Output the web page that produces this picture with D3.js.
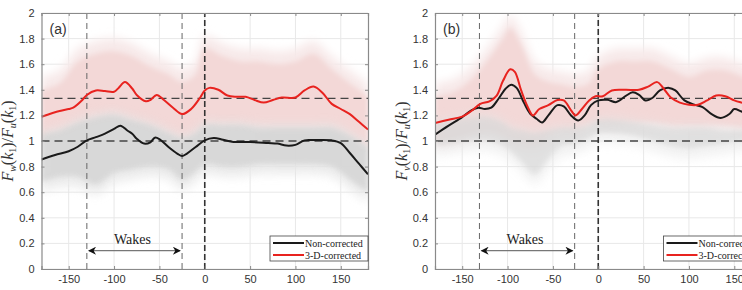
<!DOCTYPE html>
<html><head><meta charset="utf-8">
<script src="https://cdn.jsdelivr.net/npm/d3@7"></script>
<style>
html,body{margin:0;padding:0;background:#fff;overflow:hidden;}
svg{display:block;}
.tick text{font-family:"Liberation Sans",Arial,sans-serif;font-size:11px;fill:#333;}
</style></head><body>
<svg id="chart" width="742" height="290"></svg>
<script>
// ---------- data ----------
const xTicks = [-150,-100,-50,0,50,100,150];
const yTicks = [0,0.2,0.4,0.6,0.8,1,1.2,1.4,1.6,1.8,2];
const yTickLabels = ["0","0.2","0.4","0.6","0.8","1","1.2","1.4","1.6","1.8","2"];
const refLines = [1, 4/3];
const wakeStartA = -130, wakeEndA = -25;
const wakeStartB = -131, wakeEndB = -26;
const legendLabels = ["Non-corrected","3-D-corrected"];

// panel (a)
const aRedX = [-180,-160,-150,-145,-135,-130,-120,-110,-100,-95,-88,-80,-75,-65,-60,-53,-45,-35,-25,-15,-5,0,5,15,25,35,45,55,65,75,85,100,110,120,130,140,150,160,170,180];
const aRedY = [1.19,1.235,1.25,1.26,1.32,1.36,1.395,1.39,1.385,1.415,1.46,1.41,1.36,1.31,1.32,1.36,1.32,1.26,1.21,1.25,1.34,1.395,1.415,1.40,1.355,1.345,1.345,1.32,1.30,1.32,1.34,1.34,1.395,1.425,1.375,1.29,1.25,1.21,1.15,1.09];
const aBlkX = [-180,-165,-150,-140,-130,-120,-110,-100,-93,-85,-80,-75,-67,-60,-55,-50,-40,-30,-25,-20,-10,0,10,20,30,50,70,80,90,100,110,120,140,150,160,170,180];
const aBlkY = [0.855,0.89,0.92,0.955,1.005,1.03,1.057,1.095,1.12,1.08,1.057,1.018,0.98,0.99,1.026,1.015,0.953,0.90,0.883,0.90,0.953,1.005,1.023,1.01,0.995,0.992,0.984,0.98,0.964,0.97,1.005,1.007,1.005,0.984,0.906,0.823,0.74];
const aCloudX = [-180,-160,-140,-120,-100,-80,-60,-40,-25,-10,0,20,40,60,80,100,120,140,160,180];
const aPinkHi = [1.40,1.45,1.62,1.68,1.70,1.66,1.58,1.52,1.46,1.52,1.72,1.66,1.62,1.62,1.60,1.62,1.68,1.56,1.45,1.35];
const aPinkLo = [1.00,1.02,1.05,1.08,1.10,1.08,1.05,1.02,1.00,1.02,1.08,1.08,1.08,1.08,1.06,1.06,1.08,1.05,1.00,0.95];
const aGreyHi = [1.05,1.08,1.14,1.18,1.20,1.16,1.12,1.06,1.02,1.06,1.12,1.12,1.12,1.10,1.10,1.10,1.10,1.10,1.04,0.95];
const aGreyLo = [0.68,0.72,0.72,0.66,0.75,0.78,0.80,0.78,0.70,0.76,0.82,0.80,0.80,0.82,0.82,0.82,0.82,0.80,0.70,0.60];

// panel (b)
const bRedX = [-180,-165,-150,-140,-130,-120,-112,-105,-97,-92,-85,-78,-72,-65,-55,-45,-38,-30,-25,-18,-10,-3,5,15,30,45,55,65,72,80,90,100,110,120,130,140,150,158,170,180];
const bRedY = [1.14,1.166,1.19,1.234,1.29,1.31,1.355,1.47,1.56,1.54,1.395,1.27,1.20,1.25,1.28,1.32,1.317,1.24,1.20,1.25,1.317,1.35,1.35,1.395,1.40,1.40,1.425,1.46,1.41,1.34,1.30,1.283,1.283,1.317,1.355,1.35,1.317,1.30,1.28,1.26];
const bBlkX = [-180,-165,-150,-140,-132,-125,-118,-110,-102,-96,-90,-82,-75,-68,-62,-55,-45,-38,-30,-22,-15,-8,0,10,20,30,38,45,52,60,68,78,85,95,105,115,125,135,145,150,158,170,180];
const bBlkY = [1.05,1.12,1.187,1.24,1.26,1.25,1.26,1.33,1.41,1.44,1.415,1.30,1.213,1.174,1.145,1.20,1.28,1.27,1.20,1.16,1.20,1.28,1.317,1.322,1.304,1.35,1.38,1.36,1.317,1.338,1.395,1.415,1.395,1.317,1.286,1.265,1.21,1.18,1.213,1.25,1.23,1.20,1.22];
const bCloudX = [-180,-160,-140,-120,-105,-97,-85,-70,-55,-40,-25,-10,0,20,40,60,80,100,120,140,160,180];
const bPinkHi = [1.35,1.38,1.48,1.65,1.80,1.88,1.75,1.52,1.46,1.44,1.42,1.45,1.56,1.62,1.62,1.62,1.56,1.50,1.55,1.55,1.50,1.45];
const bPinkLo = [1.00,1.02,1.06,1.08,1.05,1.02,1.00,0.98,1.04,1.08,1.08,1.12,1.14,1.14,1.14,1.14,1.12,1.12,1.12,1.12,1.10,1.08];
const bGreyHi = [1.14,1.16,1.18,1.18,1.14,1.10,1.08,1.06,1.08,1.10,1.10,1.12,1.16,1.16,1.14,1.12,1.10,1.10,1.10,1.08,1.08,1.06];
const bGreyLo = [0.96,0.98,1.00,1.00,0.96,0.92,0.84,0.74,0.86,0.96,0.98,1.02,1.06,1.06,1.04,1.00,0.96,0.94,0.96,0.98,1.00,1.00];

// ---------- drawing ----------
const svg = d3.select("#chart");
const defs = svg.append("defs");
defs.append("filter").attr("id","blur").append("feGaussianBlur").attr("stdDeviation",2.5);
defs.append("filter").attr("id","blur2").append("feGaussianBlur").attr("stdDeviation",5);
const m = defs.append("marker").attr("id","arr").attr("viewBox","0 0 10 10")
  .attr("refX",9).attr("refY",5).attr("markerWidth",10).attr("markerHeight",8)
  .attr("orient","auto-start-reverse").attr("markerUnits","userSpaceOnUse");
m.append("path").attr("d","M0,0 L10,5 L0,10 L3,5 Z").attr("fill","#111");

function panel(opt){
  const x = d3.scaleLinear().domain([-180,180]).range([opt.left, opt.left + 326.5]);
  const y = d3.scaleLinear().domain([0,2]).range([269, 13]);
  const g = svg.append("g");
  const W = x(180)-x(-180), H = y(0)-y(2);
  const cid = "clip"+opt.tag;
  defs.append("clipPath").attr("id",cid).append("rect")
    .attr("x",x(-180)).attr("y",y(2)).attr("width",W).attr("height",H);

  // grid
  g.append("g").selectAll("line").data(xTicks).join("line")
    .attr("x1",d=>x(d)).attr("x2",d=>x(d)).attr("y1",y(0)).attr("y2",y(2))
    .attr("stroke","#e8e8e8").attr("stroke-width",1);
  g.append("g").selectAll("line").data(yTicks).join("line")
    .attr("y1",d=>y(d)).attr("y2",d=>y(d)).attr("x1",x(-180)).attr("x2",x(180))
    .attr("stroke","#e8e8e8").attr("stroke-width",1);

  const cg = g.append("g").attr("clip-path",`url(#${cid})`);
  // clouds
  const band = (xs, hi, lo) => d3.area().curve(d3.curveCatmullRom)
    .x((d,i)=>x(xs[i])).y0((d,i)=>y(lo[i])).y1((d,i)=>y(hi[i]))(xs);
  const expand = (arr, k) => arr.map(v=>v+k);
  cg.append("path").attr("d",band(opt.cx, expand(opt.ph,0.1), expand(opt.pl,-0.05)))
    .attr("fill","#f7e9e9").attr("filter","url(#blur2)");
  cg.append("path").attr("d",band(opt.cx, opt.ph, opt.pl))
    .attr("fill","#f3d8d7").attr("filter","url(#blur)");
  cg.append("path").attr("d",band(opt.cx, expand(opt.gh,0.03), expand(opt.gl,-0.08)))
    .attr("fill","#e6e6e6").attr("opacity",opt.gop*0.85).attr("filter","url(#blur2)");
  cg.append("path").attr("d",band(opt.cx, opt.gh, opt.gl))
    .attr("fill","#d6d6d6").attr("opacity",opt.gop).attr("filter","url(#blur)");

  // reference lines
  cg.selectAll("line.ref").data(refLines).join("line").attr("class","ref")
    .attr("x1",x(-180)).attr("x2",x(180)).attr("y1",d=>y(d)).attr("y2",d=>y(d))
    .attr("stroke","#444").attr("stroke-width",1.4).attr("stroke-dasharray","8,5");
  cg.selectAll("line.vw").data([opt.ws, opt.we]).join("line").attr("class","vw")
    .attr("x1",d=>x(d)).attr("x2",d=>x(d)).attr("y1",y(0)).attr("y2",y(2))
    .attr("stroke","#666").attr("stroke-width",1).attr("stroke-dasharray","6,4");
  cg.append("line").attr("x1",x(0)).attr("x2",x(0)).attr("y1",y(0)).attr("y2",y(2))
    .attr("stroke","#333").attr("stroke-width",1.6).attr("stroke-dasharray","6,3");

  // curves
  const line = (xs, ys) => d3.line().curve(d3.curveCatmullRom.alpha(0.5))
    .x((d,i)=>x(xs[i])).y((d,i)=>y(ys[i]))(xs);
  cg.append("path").attr("d",line(opt.kx, opt.ky)).attr("fill","none")
    .attr("stroke","#1a1a1a").attr("stroke-width",2);
  cg.append("path").attr("d",line(opt.rx, opt.ry)).attr("fill","none")
    .attr("stroke","#e8231f").attr("stroke-width",2);

  // axes
  const ax = g.append("g").attr("transform",`translate(0,${y(0)})`)
    .call(d3.axisBottom(x).tickValues(xTicks).tickSize(-3).tickPadding(6).tickFormat(d=>d));
  const axT = g.append("g").attr("transform",`translate(0,${y(2)})`)
    .call(d3.axisTop(x).tickValues(xTicks).tickSize(-3).tickFormat(""));
  const ay = g.append("g").attr("transform",`translate(${x(-180)},0)`)
    .call(d3.axisLeft(y).tickValues(yTicks).tickSize(-3).tickPadding(7).tickFormat((d,i)=>yTickLabels[i]));
  const ayR = g.append("g").attr("transform",`translate(${x(180)},0)`)
    .call(d3.axisRight(y).tickValues(yTicks).tickSize(-3).tickFormat(""));
  [ax,axT,ay,ayR].forEach(a=>{
    a.select(".domain").attr("stroke","#8a8a8a").attr("stroke-width",1.2);
    a.selectAll(".tick line").attr("stroke","#8a8a8a");
  });

  // panel label
  g.append("text").attr("x",x(-180)+8).attr("y",y(2)+21).text(opt.label)
    .attr("font-family","Liberation Sans,Arial,sans-serif").attr("font-size",14)
    .attr("font-weight",500).attr("fill","#333");

  // wakes arrow
  const ay0 = y(0.143);
  g.append("line").attr("x1",x(opt.ws)+2).attr("x2",x(opt.we)-2).attr("y1",ay0).attr("y2",ay0)
    .attr("stroke","#777").attr("stroke-width",1.3)
    .attr("marker-end","url(#arr)").attr("marker-start","url(#arr)");
  g.append("text").attr("x",(x(opt.ws)+x(opt.we))/2 - 2).attr("y",ay0-7)
    .attr("text-anchor","middle").attr("font-family","Liberation Serif,Times New Roman,serif")
    .attr("font-size",14).attr("fill","#222").text("Wakes");

  // legend
  const lx = x(180)-98, ly = y(0)-33;
  const lg = g.append("g");
  lg.append("rect").attr("x",lx).attr("y",ly).attr("width",98).attr("height",25)
    .attr("fill","#fff").attr("stroke","#444").attr("stroke-width",0.8);
  const cols = ["#1a1a1a","#e8231f"];
  legendLabels.forEach((t,i)=>{
    const yy = ly + 7 + i*12;
    lg.append("line").attr("x1",lx+3).attr("x2",lx+34).attr("y1",yy).attr("y2",yy)
      .attr("stroke",cols[i]).attr("stroke-width",2);
    lg.append("text").attr("x",lx+35).attr("y",yy+3.5).text(t)
      .attr("font-family","Liberation Serif,Times New Roman,serif").attr("font-size",10).attr("fill","#222");
  });

  // y label
  const yl = g.append("text").attr("transform",`translate(${opt.ylx},${(y(0)+y(2))/2}) rotate(-90)`)
    .attr("text-anchor","middle").attr("font-family","Liberation Serif,Times New Roman,serif")
    .attr("font-size",16).attr("fill","#333");
  const parts = [["F","i",0],[opt.sub,"i",1],["(","n",0],["k","i",0],["1","n",1],[")/","n",0],["F","i",0],["u","i",1],["(","n",0],["k","i",0],["1","n",1],[")","n",0]];
  parts.forEach((p,i)=>{
    const ts = yl.append("tspan").text(p[0]).attr("font-style",p[1]==="i"?"italic":"normal");
    if(p[2]) ts.attr("font-size",10).attr("dy",3);
    else if(i>0 && parts[i-1][2]) ts.attr("dy",-3);
  });

  // x label (clipped by picture edge, as in the reference)
  g.append("text").attr("x",(x(-180)+x(180))/2).attr("y",300).attr("text-anchor","middle")
    .attr("font-family","Liberation Serif,Times New Roman,serif").attr("font-size",14).attr("fill","#333")
    .text("θ [deg]");
}

panel({tag:"a", left:41.5, label:"(a)", sub:"w", ws:wakeStartA, we:wakeEndA, ylx:13, gop:0.9,
  rx:aRedX, ry:aRedY, kx:aBlkX, ky:aBlkY, cx:aCloudX, ph:aPinkHi, pl:aPinkLo, gh:aGreyHi, gl:aGreyLo});
panel({tag:"b", left:435, label:"(b)", sub:"v", ws:wakeStartB, we:wakeEndB, ylx:407, gop:0.6,
  rx:bRedX, ry:bRedY, kx:bBlkX, ky:bBlkY, cx:bCloudX, ph:bPinkHi, pl:bPinkLo, gh:bGreyHi, gl:bGreyLo});
</script>
</body></html>
